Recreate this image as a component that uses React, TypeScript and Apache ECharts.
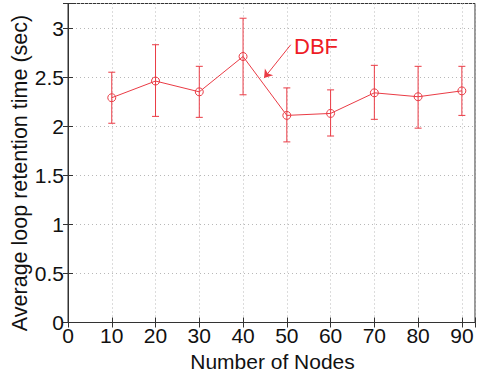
import React, { useEffect, useRef } from "react";
import * as echarts from "echarts";

const nodes = [10, 20, 30, 40, 50, 60, 70, 80, 90];
const meanTime = [2.29, 2.46, 2.35, 2.71, 2.11, 2.13, 2.34, 2.3, 2.36];
const upperTime = [2.55, 2.83, 2.61, 3.1, 2.39, 2.37, 2.62, 2.61, 2.61];
const lowerTime = [2.03, 2.1, 2.09, 2.32, 1.84, 1.9, 2.07, 1.98, 2.11];
const seriesName = "DBF";
const xTitle = "Number of Nodes";
const yTitle = "Average loop retention time (sec)";

const RED = "#ea3b45";
const FONT = "Liberation Sans, Arial, sans-serif";

export default function App() {
  const ref = useRef<HTMLDivElement>(null);
  useEffect(() => {
    if (!ref.current) return;
    const chart = echarts.init(ref.current, null, { renderer: "svg" });
    const fmtX = (v: number) => (v % 10 === 0 ? String(v) : "");
    const fmtY = (v: number) => (Math.abs(v * 2 - Math.round(v * 2)) < 1e-9 ? String(v) : "");
    const axisLineStyle = { color: "#333", width: 1 };
    chart.setOption({
      animation: false,
      grid: {
        left: 68,
        right: 1,
        top: 3.5,
        bottom: 53.5,
        show: true,
        borderColor: "#333",
        borderWidth: 1,
      },
      xAxis: [
        {
          type: "value",
          min: 0,
          max: 93,
          interval: 10,
          axisLine: { lineStyle: axisLineStyle },
          axisTick: { inside: true, length: 5, lineStyle: axisLineStyle },
          axisLabel: { formatter: fmtX, color: "#111", fontSize: 21, fontFamily: FONT, margin: 2 },
          splitLine: { show: true, lineStyle: { color: "#b8b8b8", type: [1, 3], width: 1 } },
        },
        {
          type: "value",
          position: "top",
          min: 0,
          max: 93,
          interval: 10,
          axisLine: { lineStyle: axisLineStyle },
          axisTick: { inside: true, length: 5, lineStyle: axisLineStyle },
          axisLabel: { show: false },
          splitLine: { show: false },
        },
      ],
      yAxis: [
        {
          type: "value",
          min: 0,
          max: 3.25,
          interval: 0.5,
          axisLine: { show: true, lineStyle: axisLineStyle },
          axisTick: { show: true, inside: true, length: 5, lineStyle: axisLineStyle },
          axisLabel: { formatter: fmtY, color: "#111", fontSize: 21, fontFamily: FONT, margin: 4 },
          splitLine: { show: true, lineStyle: { color: "#b8b8b8", type: [1, 3], width: 1 } },
        },
        {
          type: "value",
          position: "right",
          min: 0,
          max: 3.25,
          interval: 0.5,
          axisLine: { show: true, lineStyle: axisLineStyle },
          axisTick: { show: true, inside: true, length: 5, lineStyle: axisLineStyle },
          axisLabel: { show: false },
          splitLine: { show: false },
        },
      ],
      series: [
        {
          type: "custom",
          xAxisIndex: 0,
          yAxisIndex: 0,
          data: nodes.map((n, i) => [n, lowerTime[i], upperTime[i]]),
          renderItem: (params: any, api: any) => {
            const x = api.value(0);
            const top = api.coord([x, api.value(2)]);
            const bot = api.coord([x, api.value(1)]);
            const w = 3.5;
            const style = { stroke: RED, lineWidth: 1 };
            return {
              type: "group",
              children: [
                { type: "line", shape: { x1: top[0], y1: top[1], x2: bot[0], y2: bot[1] }, style },
                { type: "line", shape: { x1: top[0] - w, y1: top[1], x2: top[0] + w, y2: top[1] }, style },
                { type: "line", shape: { x1: bot[0] - w, y1: bot[1], x2: bot[0] + w, y2: bot[1] }, style },
              ],
            };
          },
          z: 2,
        },
        {
          type: "line",
          name: seriesName,
          xAxisIndex: 0,
          yAxisIndex: 0,
          data: nodes.map((n, i) => [n, meanTime[i]]),
          symbol: "circle",
          symbolSize: 8,
          showSymbol: true,
          itemStyle: { color: "rgba(0,0,0,0)", borderColor: RED, borderWidth: 1 },
          lineStyle: { color: RED, width: 1 },
          z: 3,
          markLine: {
            silent: true,
            symbol: ["none", "arrow"],
            symbolSize: 8,
            label: { show: false },
            lineStyle: { color: RED, width: 1, type: "solid" },
            data: [[{ coord: [50.9, 2.83] }, { coord: [44.8, 2.49] }]],
          },
        },
      ],
      graphic: [
        {
          type: "text",
          left: 294,
          top: 35,
          style: { text: seriesName, fill: "#ee1c25", font: `22px ${FONT}` },
        },
        {
          type: "text",
          x: 20,
          y: 173,
          rotation: Math.PI / 2,
          style: {
            text: yTitle,
            fill: "#111",
            font: `21.5px ${FONT}`,
            textAlign: "center",
            textVerticalAlign: "middle",
          },
        },
        {
          type: "text",
          x: 272.5,
          y: 351,
          style: {
            text: xTitle,
            fill: "#111",
            font: `21px ${FONT}`,
            textAlign: "center",
            textVerticalAlign: "top",
          },
        },
      ],
    });
    return () => chart.dispose();
  }, []);
  return <div ref={ref} style={{ width: 478, height: 376, position: "absolute", left: 0, top: 0 }} />;
}
